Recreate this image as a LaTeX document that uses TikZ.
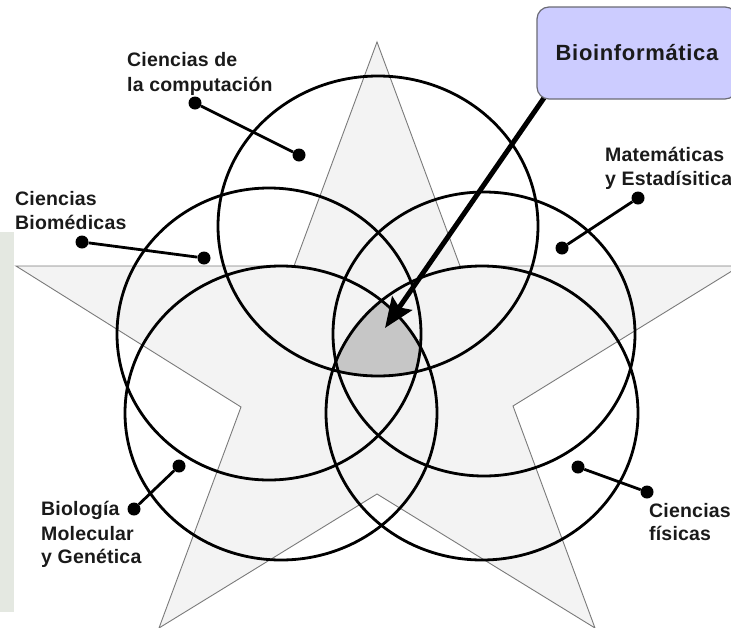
\documentclass[tikz,border=0pt]{standalone}
\usepackage{fontspec}
\setmainfont{Liberation Sans}
\newfontfamily\labfont[LetterSpace=1]{Liberation Sans}
\newfontfamily\boxfont[LetterSpace=3]{Liberation Sans}
\usetikzlibrary{arrows.meta}
\definecolor{starfill}{HTML}{F3F3F3}
\definecolor{stargray}{HTML}{7A7A7A}
\definecolor{coregray}{HTML}{C6C6C6}
\definecolor{boxfill}{HTML}{CCCCFF}
\definecolor{boxline}{HTML}{6A6A74}
\definecolor{stripcol}{HTML}{E4E8E1}
\definecolor{labtext}{HTML}{1A1A1A}
\begin{document}
\begin{tikzpicture}[x=1pt,y=-1pt,
  ring/.style={draw=black,line width=2.8pt},
  lab/.style={font=\labfont\bfseries\fontsize{19.5}{24}\selectfont,anchor=base west,inner sep=0pt,text=labtext},
  dot/.style={circle,fill=black,inner sep=0pt,minimum size=13pt},
  lead/.style={line width=2.8pt,draw=black}]
\useasboundingbox (0,0) rectangle (731,627);
\begin{scope}
\clip (0,0) rectangle (731,627);
% faint background fragment at the left edge
\fill[stripcol] (0,232) rectangle (14,612);
% star
\filldraw[fill=starfill,draw=stargray,line width=0.9pt]
  (377,42) -- (460,266) -- (740,266) -- (513,406) -- (595,628) -- (377,494)
  -- (159,628) -- (241,407) -- (16,266) -- (294,266) -- cycle;
% common core
\begin{scope}
  \clip (281,413) ellipse [x radius=156pt, y radius=147pt];
  \clip (482,413) ellipse [x radius=156pt, y radius=147pt];
  \clip (378,226) ellipse [x radius=160pt, y radius=150pt];
  \clip (269,334) ellipse [x radius=152pt, y radius=146pt];
  \clip (484,334) ellipse [x radius=151pt, y radius=142pt];
  \fill[coregray] (300,250) rectangle (460,400);
\end{scope}
% circles
\draw[ring] (378,226) ellipse [x radius=160pt, y radius=150pt];
\draw[ring] (269,334) ellipse [x radius=152pt, y radius=146pt];
\draw[ring] (484,334) ellipse [x radius=151pt, y radius=142pt];
\draw[ring] (281,413) ellipse [x radius=156pt, y radius=147pt];
\draw[ring] (482,413) ellipse [x radius=156pt, y radius=147pt];
% leaders
\node[dot] (c1) at (195,103) {};
\node[dot] (c2) at (299,155) {};
\draw[lead] (c1) -- (c2);
\node[dot] (b1) at (82,242) {};
\node[dot] (b2) at (204,258) {};
\draw[lead] (b1) -- (b2);
\node[dot] (m1) at (638,198) {};
\node[dot] (m2) at (562,248) {};
\draw[lead] (m1) -- (m2);
\node[dot] (f1) at (578,467) {};
\node[dot] (f2) at (647,492) {};
\draw[lead] (f1) -- (f2);
\node[dot] (g1) at (134,509) {};
\node[dot] (g2) at (179,466) {};
\draw[lead] (g1) -- (g2);
% arrow
\coordinate (arrstart) at (546,95);
\coordinate (core) at (385,328);
\draw[line width=5pt,-{Stealth[length=30pt,width=24pt,inset=5pt]}] (arrstart) -- (core);
% box
\node[draw=boxline,fill=boxfill,rounded corners=12pt,line width=1.2pt,
  minimum width=200pt,minimum height=92pt,inner sep=0pt,
  text height=15pt,text depth=0pt,text=labtext,
  font=\boxfont\bfseries\fontsize{22}{26}\selectfont] (box) at (637,53) {Bioinformática};
% labels
\node[lab] (t1) at (127,66) {Ciencias de};
\node[lab] (t2) at (127,91) {la computación};
\node[lab] (t3) at (15,205) {Ciencias};
\node[lab] (t4) at (15,229) {Biomédicas};
\node[lab] (t5) at (605,161) {Matemáticas};
\node[lab] (t6) at (605,185) {y Estadísitica};
\node[lab] (t7) at (649,517) {Ciencias};
\node[lab] (t8) at (649,540) {físicas};
\node[lab] (t9) at (41,515) {Biología};
\node[lab] (t10) at (41,540) {Molecular};
\node[lab] (t11) at (41,563) {y Genética};
\end{scope}
\end{tikzpicture}
\end{document}
